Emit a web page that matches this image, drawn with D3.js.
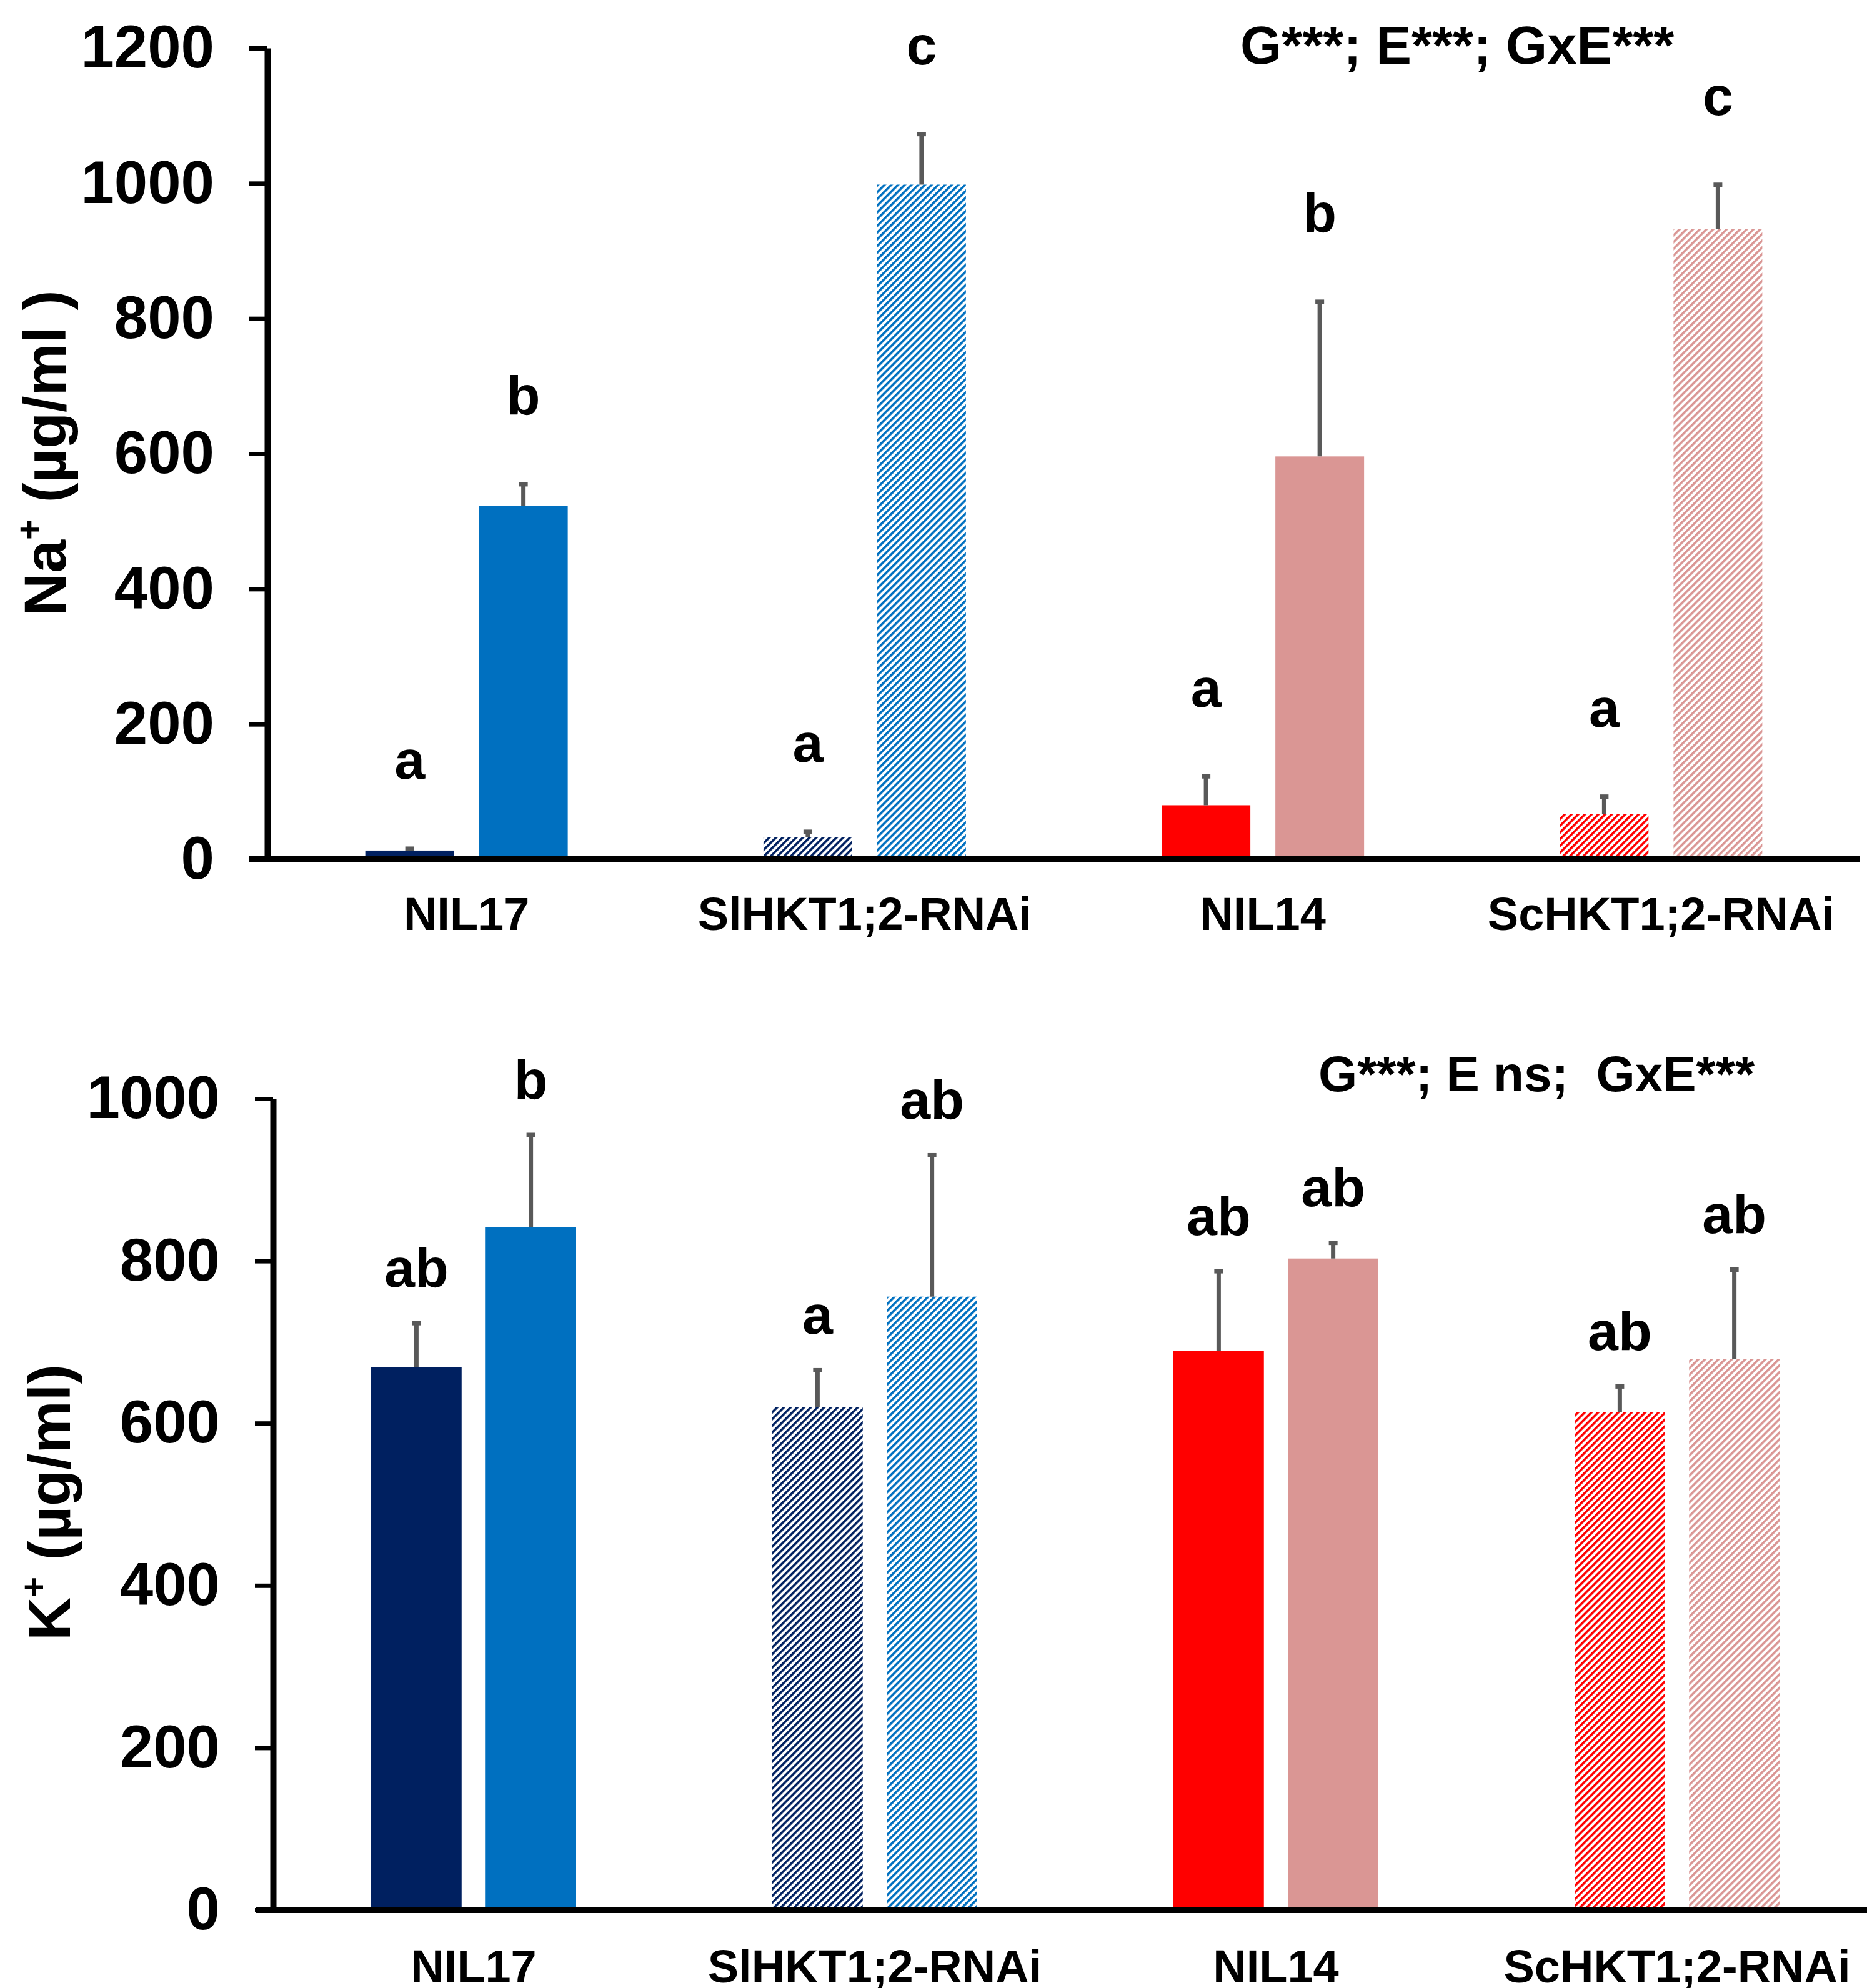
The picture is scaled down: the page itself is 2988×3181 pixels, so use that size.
<!DOCTYPE html>
<html>
<head>
<meta charset="utf-8">
<script src="https://cdn.jsdelivr.net/npm/d3@7"></script>
<style>
  html, body { margin: 0; padding: 0; background: #fff; }
  svg { display: block; font-family: "Liberation Sans", Arial, sans-serif; font-weight: bold; }
</style>
</head>
<body>
<div id="chart"></div>
<script>
const genotypes = ["NIL17", "SlHKT1;2-RNAi", "NIL14", "ScHKT1;2-RNAi"];
const treatments = ["control", "salt"];

// Na+ (µg/ml)
const naControl = [13, 33, 80, 67];
const naControlErr = [6, 11, 46, 29];
const naSalt = [523, 998, 596, 932];
const naSaltErr = [35, 78, 232, 69];
const naControlLetters = ["a", "a", "a", "a"];
const naSaltLetters = ["b", "c", "b", "c"];
const naTicks = [0, 200, 400, 600, 800, 1000, 1200];
const naStats = "G***; E***; GxE***";

// K+ (µg/ml)
const kControl = [669, 620, 689, 614];
const kControlErr = [57, 48, 101, 34];
const kSalt = [842, 756, 803, 679];
const kSaltErr = [116, 177, 22, 113];
const kControlLetters = ["ab", "a", "ab", "ab"];
const kSaltLetters = ["b", "ab", "ab", "ab"];
const kTicks = [0, 200, 400, 600, 800, 1000];
const kStats = "G***; E ns;  GxE***";

const W = 2988, H = 3181;
const errColor = "#595959";

// colours per genotype: [control, salt]; RNAi lines are hatched
const colors = [["#002060", "#0070C0"], ["#002060", "#0070C0"], ["#FF0000", "#DA9694"], ["#FF0000", "#DA9694"]];
const hatched = [false, true, false, true];

const svg = d3.select("#chart").append("svg")
    .attr("width", W)
    .attr("height", H);

svg.append("rect").attr("width", W).attr("height", H).attr("fill", "#fff");

const defs = svg.append("defs");
const hatchId = c => "hatch" + c.replace("#", "");
["#002060", "#0070C0", "#FF0000", "#DA9694"].forEach(c => {
    const p = defs.append("pattern")
        .attr("id", hatchId(c))
        .attr("patternUnits", "userSpaceOnUse")
        .attr("width", 7.6)
        .attr("height", 7.6)
        .attr("patternTransform", "rotate(45)");
    p.append("rect").attr("width", 7.6).attr("height", 7.6).attr("fill", "#fff");
    p.append("rect").attr("width", 3.6).attr("height", 7.6).attr("fill", c);
});

function drawPanel(cfg) {
    const g = svg.append("g");

    const x = d3.scaleBand().domain(genotypes).range([cfg.left, cfg.right]);
    const xi = d3.scaleBand().domain(treatments).range([-cfg.inner, cfg.inner]).paddingInner(cfg.padInner);
    const y = d3.scaleLinear().domain([0, cfg.yMax]).range([cfg.yZero, cfg.yTop]);

    const rows = [];
    genotypes.forEach((gt, i) => {
        rows.push({ gi: i, g: gt, t: "control", v: cfg.control[i], e: cfg.controlErr[i], l: cfg.controlLetters[i] });
        rows.push({ gi: i, g: gt, t: "salt", v: cfg.salt[i], e: cfg.saltErr[i], l: cfg.saltLetters[i] });
    });
    const cx = d => x(d.g) + x.bandwidth() / 2 + xi(d.t) + xi.bandwidth() / 2;
    const fill = d => {
        const c = colors[d.gi][d.t === "control" ? 0 : 1];
        return hatched[d.gi] ? `url(#${hatchId(c)})` : c;
    };

    // bars
    g.append("g").selectAll("rect")
        .data(rows)
        .enter().append("rect")
        .attr("x", d => cx(d) - xi.bandwidth() / 2)
        .attr("width", xi.bandwidth())
        .attr("y", d => y(d.v))
        .attr("height", d => y(0) - y(d.v))
        .attr("fill", fill);

    // error bars (upper only)
    const eb = g.append("g").selectAll("g")
        .data(rows)
        .enter().append("g");
    eb.append("line")
        .attr("x1", cx).attr("x2", cx)
        .attr("y1", d => y(d.v))
        .attr("y2", d => y(d.v + d.e) + 3)
        .attr("stroke", errColor)
        .attr("stroke-width", 7);
    eb.append("rect")
        .attr("x", d => cx(d) - 7)
        .attr("y", d => y(d.v + d.e))
        .attr("width", 14)
        .attr("height", 7)
        .attr("fill", errColor);

    // significance letters
    g.append("g").selectAll("text")
        .data(rows)
        .enter().append("text")
        .attr("x", cx)
        .attr("y", d => y(d.v + d.e) - cfg.letterGap)
        .attr("text-anchor", "middle")
        .attr("font-size", 88)
        .attr("fill", "#000")
        .text(d => d.l);

    // y axis
    const yAxis = g.append("g")
        .attr("transform", `translate(${cfg.left},0)`)
        .call(d3.axisLeft(y).tickValues(cfg.ticks).tickSizeInner(29).tickSizeOuter(0).tickPadding(56).tickFormat(d3.format("d")));
    yAxis.select(".domain").attr("stroke", "#000").attr("stroke-width", 10);
    yAxis.selectAll(".tick line").attr("stroke", "#000").attr("stroke-width", 7);
    yAxis.selectAll(".tick text")
        .attr("font-size", 96)
        .attr("font-family", "'Liberation Sans', Arial, sans-serif")
        .attr("font-weight", "bold")
        .attr("fill", "#000");

    // x axis
    g.append("line")
        .attr("x1", cfg.axisLeft).attr("x2", cfg.axisRight)
        .attr("y1", cfg.yZero).attr("y2", cfg.yZero)
        .attr("stroke", "#000")
        .attr("stroke-width", 10);
    const xAxis = g.append("g")
        .attr("transform", `translate(0,${cfg.yZero})`)
        .call(d3.axisBottom(x).tickSize(0));
    xAxis.select(".domain").remove();
    xAxis.selectAll(".tick text")
        .attr("dy", null)
        .attr("y", cfg.labelBase - cfg.yZero)
        .attr("font-size", 74)
        .attr("font-family", "'Liberation Sans', Arial, sans-serif")
        .attr("font-weight", "bold")
        .attr("fill", "#000");

    // y title
    const title = g.append("text")
        .attr("transform", `translate(${cfg.titleX},${cfg.titleY}) rotate(-90)`)
        .attr("text-anchor", "middle")
        .attr("font-size", 95)
        .attr("fill", "#000");
    title.append("tspan").text(cfg.ion);
    title.append("tspan").attr("font-size", 57).attr("dy", -38).text("+");
    title.append("tspan").attr("dy", 38).text(cfg.unit);

    // statistics
    g.append("text")
        .attr("x", cfg.statX)
        .attr("y", cfg.statY)
        .attr("font-size", cfg.statSize)
        .attr("fill", "#000")
        .style("white-space", "pre")
        .text(cfg.stats);
}

drawPanel({
    control: naControl, controlErr: naControlErr, salt: naSalt, saltErr: naSaltErr,
    controlLetters: naControlLetters, saltLetters: naSaltLetters,
    ticks: naTicks, yMax: 1200, stats: naStats, ion: "Na", unit: " (µg/ml )",
    left: 428, right: 2977, yTop: 77, yZero: 1375,
    inner: 162, padInner: 0.22,
    axisLeft: 399, axisRight: 2976, labelBase: 1488,
    titleX: 105, titleY: 725, letterGap: 108,
    statX: 1985, statY: 102, statSize: 85
});

drawPanel({
    control: kControl, controlErr: kControlErr, salt: kSalt, saltErr: kSaltErr,
    controlLetters: kControlLetters, saltLetters: kSaltLetters,
    ticks: kTicks, yMax: 1000, stats: kStats, ion: "K", unit: " (µg/ml)",
    left: 437, right: 3005, yTop: 1758, yZero: 3056,
    inner: 164, padInner: 0.21,
    axisLeft: 410, axisRight: 2988, labelBase: 3172,
    titleX: 112, titleY: 2404, letterGap: 55,
    statX: 2110, statY: 1746, statSize: 80
});
</script>
</body>
</html>
